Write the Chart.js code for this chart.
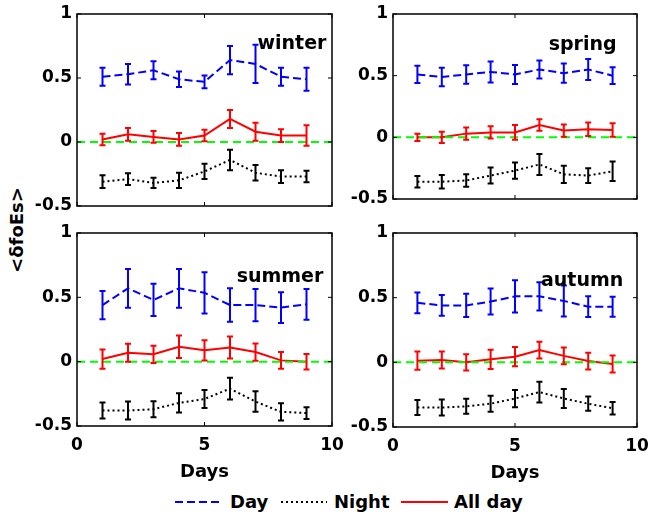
<!DOCTYPE html>
<html>
<head>
<meta charset="utf-8">
<script src="https://cdn.jsdelivr.net/npm/chart.js"></script>
<style>
  body { margin: 0; background: #fff; width: 648px; height: 519px; position: relative; overflow: hidden; font-family: "DejaVu Sans", sans-serif; }
  canvas { position: absolute; }
  .ylab { position: absolute; left: 16px; top: 230px; font: bold 18px "DejaVu Sans"; transform: translate(-50%, -50%) rotate(-90deg); white-space: nowrap; }
  .leg { position: absolute; top: 490px; font: bold 18px "DejaVu Sans"; line-height: 24px; }
  .leg svg { position: absolute; top: 0; }
</style>
</head>
<body>
<div class="ylab">&lt;δfoEs&gt;</div>

<div class="leg" style="left:175px"><svg width="48" height="24"><line x1="0" y1="12" x2="48" y2="12" stroke="#0000ff" stroke-width="2" stroke-dasharray="8,4"/></svg><span style="position:absolute;left:55px">Day</span></div>
<div class="leg" style="left:281px"><svg width="46" height="24"><line x1="0" y1="12" x2="46" y2="12" stroke="#000" stroke-width="2" stroke-dasharray="2,3"/></svg><span style="position:absolute;left:53px">Night</span></div>
<div class="leg" style="left:401px"><svg width="47" height="24"><line x1="0" y1="12" x2="47" y2="12" stroke="#ff0000" stroke-width="2"/></svg><span style="position:absolute;left:53px;white-space:nowrap">All day</span></div>

<script>
// ---- data ----
const days = [1, 2, 3, 4, 5, 6, 7, 8, 9];
const xTicks = [0, 5, 10];
const yTicks = [-0.5, 0, 0.5, 1];
const zeroX = [0, 10];
const zeroY = [0, 0];

const winterDay      = [0.51, 0.53, 0.56, 0.49, 0.47, 0.64, 0.61, 0.51, 0.49];
const winterDayErr   = [0.07, 0.08, 0.07, 0.06, 0.05, 0.11, 0.15, 0.07, 0.09];
const winterNight    = [-0.31, -0.29, -0.32, -0.30, -0.23, -0.14, -0.24, -0.27, -0.27];
const winterNightErr = [0.05, 0.045, 0.04, 0.06, 0.06, 0.08, 0.06, 0.05, 0.045];
const winterAll      = [0.02, 0.06, 0.04, 0.02, 0.05, 0.18, 0.08, 0.05, 0.05];
const winterAllErr   = [0.045, 0.05, 0.045, 0.05, 0.045, 0.07, 0.07, 0.05, 0.08];

const springDay      = [0.51, 0.49, 0.51, 0.53, 0.51, 0.55, 0.52, 0.55, 0.50];
const springDayErr   = [0.07, 0.075, 0.075, 0.085, 0.077, 0.073, 0.078, 0.085, 0.068];
const springNight    = [-0.36, -0.36, -0.35, -0.31, -0.27, -0.22, -0.30, -0.31, -0.275];
const springNightErr = [0.047, 0.055, 0.05, 0.065, 0.065, 0.085, 0.07, 0.06, 0.08];
const springAll      = [0.0, 0.0, 0.03, 0.04, 0.04, 0.10, 0.055, 0.065, 0.06];
const springAllErr   = [0.03, 0.045, 0.05, 0.05, 0.06, 0.047, 0.05, 0.055, 0.055];

const summerDay      = [0.44, 0.57, 0.48, 0.57, 0.535, 0.44, 0.44, 0.42, 0.445];
const summerDayErr   = [0.11, 0.15, 0.125, 0.15, 0.16, 0.13, 0.125, 0.12, 0.12];
const summerNight    = [-0.38, -0.38, -0.37, -0.32, -0.29, -0.21, -0.31, -0.39, -0.40];
const summerNightErr = [0.062, 0.07, 0.062, 0.075, 0.07, 0.085, 0.08, 0.067, 0.045];
const summerAll      = [0.02, 0.07, 0.057, 0.116, 0.088, 0.11, 0.075, 0.01, 0.0];
const summerAllErr   = [0.075, 0.07, 0.067, 0.088, 0.078, 0.085, 0.067, 0.065, 0.06];

const autumnDay      = [0.46, 0.44, 0.44, 0.47, 0.51, 0.51, 0.475, 0.43, 0.43];
const autumnDayErr   = [0.08, 0.08, 0.09, 0.1, 0.125, 0.11, 0.12, 0.08, 0.078];
const autumnNight    = [-0.35, -0.35, -0.34, -0.32, -0.28, -0.23, -0.28, -0.32, -0.355];
const autumnNightErr = [0.058, 0.062, 0.058, 0.062, 0.067, 0.08, 0.073, 0.055, 0.048];
const autumnAll      = [0.013, 0.018, 0.0, 0.023, 0.044, 0.095, 0.05, 0.01, -0.013];
const autumnAllErr   = [0.07, 0.065, 0.063, 0.075, 0.075, 0.065, 0.065, 0.065, 0.065];

// ---- layout of the four panels (plot box in page pixels) ----
const panels = [
  { label: 'winter', box: [77, 14, 332, 206], bottom: false, labelAt: [8.43, 0.724],
    day: winterDay, dayErr: winterDayErr, night: winterNight, nightErr: winterNightErr, all: winterAll, allErr: winterAllErr },
  { label: 'spring', box: [393, 14, 637, 199], bottom: false, labelAt: [7.77, 0.708],
    day: springDay, dayErr: springDayErr, night: springNight, nightErr: springNightErr, all: springAll, allErr: springAllErr },
  { label: 'summer', box: [77, 233, 332, 426], bottom: true, labelAt: [7.96, 0.618],
    day: summerDay, dayErr: summerDayErr, night: summerNight, nightErr: summerNightErr, all: summerAll, allErr: summerAllErr },
  { label: 'autumn', box: [393, 233, 637, 427], bottom: true, labelAt: [7.75, 0.592],
    day: autumnDay, dayErr: autumnDayErr, night: autumnNight, nightErr: autumnNightErr, all: autumnAll, allErr: autumnAllErr }
];

const GUTTER = 70, PAD_T = 14, PAD_R = 14;
const tickFont = { family: 'DejaVu Sans', size: 17, weight: 'bold' };
const TICK_LEN = 4;

// box, inward ticks, error bars and season name
const panelDeco = {
  id: 'panelDeco',
  afterDatasetsDraw(chart) {
    const { ctx, chartArea: a, scales: { x, y } } = chart;
    const o = chart.options.plugins.panelDeco;
    ctx.save();
    ctx.setLineDash([]);
    chart.data.datasets.forEach(ds => {
      if (!ds.err) return;
      ctx.strokeStyle = ds.borderColor;
      ctx.lineWidth = 2;
      ctx.beginPath();
      ds.data.forEach((pt, i) => {
        const px = x.getPixelForValue(pt.x);
        const lo = y.getPixelForValue(pt.y - ds.err[i]);
        const hi = y.getPixelForValue(pt.y + ds.err[i]);
        ctx.moveTo(px, lo); ctx.lineTo(px, hi);
        ctx.moveTo(px - 3, lo); ctx.lineTo(px + 3, lo);
        ctx.moveTo(px - 3, hi); ctx.lineTo(px + 3, hi);
      });
      ctx.stroke();
    });

    ctx.strokeStyle = '#000';
    ctx.lineWidth = 1.5;
    ctx.strokeRect(a.left, a.top, a.width, a.height);
    ctx.lineWidth = 1;
    ctx.beginPath();
    xTicks.forEach(v => {
      const px = x.getPixelForValue(v);
      ctx.moveTo(px, a.bottom); ctx.lineTo(px, a.bottom - TICK_LEN);
      ctx.moveTo(px, a.top); ctx.lineTo(px, a.top + TICK_LEN);
    });
    yTicks.forEach(v => {
      const py = y.getPixelForValue(v);
      ctx.moveTo(a.left, py); ctx.lineTo(a.left + TICK_LEN, py);
      ctx.moveTo(a.right, py); ctx.lineTo(a.right - TICK_LEN, py);
    });
    ctx.stroke();

    ctx.fillStyle = '#000';
    ctx.font = 'bold 19px "DejaVu Sans"';
    ctx.textAlign = 'center';
    ctx.textBaseline = 'alphabetic';
    ctx.fillText(o.label, x.getPixelForValue(o.at[0]), y.getPixelForValue(o.at[1]));
    ctx.restore();
  }
};

function pts(ys) {
  return days.map((d, i) => ({ x: d, y: ys[i] }));
}

function makePanel(p) {
  const [L, T, R, B] = p.box;
  const xh = p.bottom ? 62 : 16;
  const cv = document.createElement('canvas');
  cv.width = (R - L) + GUTTER + PAD_R;
  cv.height = (B - T) + PAD_T + xh;
  cv.style.left = (L - GUTTER) + 'px';
  cv.style.top = (T - PAD_T) + 'px';
  document.body.appendChild(cv);

  new Chart(cv, {
    type: 'line',
    data: {
      datasets: [
        { label: 'zero', data: zeroX.map((v, i) => ({ x: v, y: zeroY[i] })), borderColor: '#00ff00', borderDash: [8, 5], borderWidth: 2, pointRadius: 0 },
        { label: 'All day', data: pts(p.all), err: p.allErr, borderColor: '#ff0000', borderWidth: 2, pointRadius: 0 },
        { label: 'Night', data: pts(p.night), err: p.nightErr, borderColor: '#000000', borderDash: [2, 3], borderWidth: 2, pointRadius: 0 },
        { label: 'Day', data: pts(p.day), err: p.dayErr, borderColor: '#0000ff', borderDash: [8, 4], borderWidth: 2, pointRadius: 0 }
      ]
    },
    options: {
      responsive: false,
      animation: false,
      devicePixelRatio: 1,
      layout: { padding: { left: 0, top: PAD_T, right: PAD_R, bottom: 0 } },
      plugins: {
        legend: { display: false },
        tooltip: { enabled: false },
        panelDeco: { label: p.label, at: p.labelAt }
      },
      scales: {
        x: {
          type: 'linear', min: 0, max: 10,
          afterBuildTicks: s => { s.ticks = xTicks.map(v => ({ value: v })); },
          afterFit: s => { s.height = xh; s.paddingLeft = 0; s.paddingRight = 0; },
          grid: { display: false, drawTicks: false },
          border: { display: false },
          ticks: { display: p.bottom, padding: 9, font: tickFont, color: '#000', maxRotation: 0, autoSkip: false, callback: v => String(v) },
          title: { display: p.bottom, text: 'Days', color: '#000', font: { family: 'DejaVu Sans', size: 18, weight: 'bold' }, padding: { top: 0, bottom: 5 } }
        },
        y: {
          type: 'linear', min: -0.5, max: 1,
          afterBuildTicks: s => { s.ticks = yTicks.map(v => ({ value: v })); },
          afterFit: s => { s.width = GUTTER; s.paddingTop = 0; s.paddingBottom = 0; },
          grid: { display: false, drawTicks: false },
          border: { display: false },
          ticks: { padding: 5, font: tickFont, color: '#000', callback: v => String(v) }
        }
      }
    },
    plugins: [panelDeco]
  });
}

panels.forEach(makePanel);
</script>
</body>
</html>
